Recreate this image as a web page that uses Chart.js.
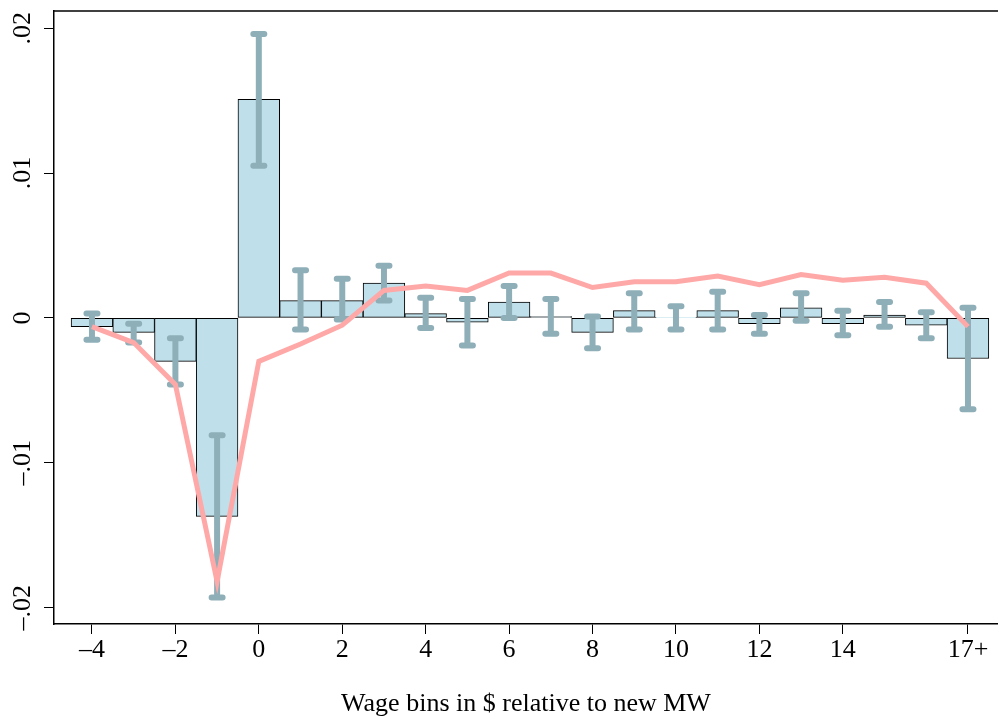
<!DOCTYPE html>
<html>
<head>
<meta charset="utf-8">
<script src="https://cdn.jsdelivr.net/npm/chart.js@4.4.1/dist/chart.umd.min.js"></script>
<style>
  body { margin: 0; background: #fff; }
  #wrap { width: 998px; height: 721px; }
</style>
</head>
<body>
<div id="wrap"><canvas id="myChart" width="998" height="721"></canvas></div>
<script>
// wage bins relative to new MW (17 = "17+")
const bins = [-4, -3, -2, -1, 0, 1, 2, 3, 4, 5, 6, 7, 8, 9, 10, 11, 12, 13, 14, 15, 16, 17];
const coef = [-0.0006, -0.0010, -0.0030, -0.0137, 0.0151, 0.0012, 0.0012, 0.0024, 0.0003, -0.0003, 0.0011,
              0.0001, -0.0010, 0.0005, 0.00005, 0.0005, -0.0004, 0.0007, -0.0004, 0.0002, -0.0005, -0.0028];
const ciHigh = [0.0003, -0.0004, -0.0014, -0.0081, 0.0196, 0.0033, 0.0027, 0.0036, 0.0014, 0.0013, 0.0022,
                0.0013, 0.0001, 0.0017, 0.0008, 0.0018, 0.0002, 0.0017, 0.0005, 0.0011, 0.0004, 0.0007];
const ciLow = [-0.0015, -0.0017, -0.0046, -0.0193, 0.0105, -0.0008, -0.0001, 0.0012, -0.0007, -0.0019, 0.0000,
               -0.0011, -0.0021, -0.0008, -0.0008, -0.0008, -0.0011, -0.0002, -0.0012, -0.0006, -0.0014, -0.0063];
const pinkLine = [-0.0006, -0.0017, -0.0046, -0.0182, -0.0030, -0.0018, -0.0005, 0.0019, 0.0022, 0.0019, 0.0031,
                  0.0031, 0.0021, 0.0025, 0.0025, 0.0029, 0.0023, 0.0030, 0.0026, 0.0028, 0.0024, -0.0006];

const xTickVals = [-4, -2, 0, 2, 4, 6, 8, 10, 12, 14, 17];
const xTickLabels = ['\u20134', '\u20132', '0', '2', '4', '6', '8', '10', '12', '14', '17+'];
const yTickVals = [-0.02, -0.01, 0, 0.01, 0.02];
const yTickLabels = ['\u2013.02', '\u2013.01', '0', '.01', '.02'];

const serif = '"Liberation Serif", "Times New Roman", serif';
const errColor = '#8eaeb8';

const errorBars = {
    id: 'errorBars',
    afterDatasetDraw: (chart, args) => {
        if (args.index !== 1) return;
        const ctx = chart.ctx;
        const x = chart.scales.x;
        const y = chart.scales.y;
        ctx.save();
        ctx.strokeStyle = errColor;
        ctx.lineWidth = 6;
        for (let i = 0; i < bins.length; i++) {
            const px = x.getPixelForValue(bins[i]);
            const top = y.getPixelForValue(ciHigh[i]);
            const bot = y.getPixelForValue(ciLow[i]);
            ctx.beginPath();
            ctx.lineCap = 'butt';
            ctx.moveTo(px, top);
            ctx.lineTo(px, bot);
            ctx.stroke();
            ctx.lineCap = 'round';
            ctx.beginPath();
            ctx.moveTo(px - 5.5, top);
            ctx.lineTo(px + 5.5, top);
            ctx.moveTo(px - 5.5, bot);
            ctx.lineTo(px + 5.5, bot);
            ctx.stroke();
        }
        ctx.restore();
    }
};

const frameAndLabels = {
    id: 'frameAndLabels',
    afterDraw: (chart) => {
        const ctx = chart.ctx;
        const area = chart.chartArea;
        const y = chart.scales.y;
        ctx.save();
        ctx.strokeStyle = '#000';
        ctx.lineWidth = 1.5;
        ctx.beginPath();
        ctx.moveTo(area.left, area.top);
        ctx.lineTo(area.right, area.top);
        ctx.stroke();
        ctx.fillStyle = '#000';
        ctx.font = '26px ' + serif;
        ctx.textAlign = 'center';
        ctx.textBaseline = 'middle';
        for (let i = 0; i < yTickVals.length; i++) {
            ctx.save();
            ctx.translate(23, y.getPixelForValue(yTickVals[i]));
            ctx.rotate(-Math.PI / 2);
            ctx.fillText(yTickLabels[i], 0, 0);
            ctx.restore();
        }
        ctx.restore();
    }
};

const data = {
    datasets: [{
        type: 'line',
        data: bins.map((b, i) => ({x: b, y: pinkLine[i]})),
        borderColor: '#ffa8a8',
        borderWidth: 5,
        pointRadius: 0,
        tension: 0,
        order: 1
    }, {
        type: 'bar',
        data: bins.map((b, i) => ({x: b, y: coef[i]})),
        backgroundColor: '#bfe0ea',
        borderColor: '#000',
        borderWidth: 1,
        borderSkipped: false,
        barPercentage: 1,
        categoryPercentage: 1,
        order: 2
    }]
};

const config = {
    type: 'bar',
    data: data,
    options: {
        responsive: false,
        animation: false,
        layout: { padding: { top: 11, left: 0, right: 0, bottom: 0 } },
        plugins: {
            legend: { display: false },
            tooltip: { enabled: false }
        },
        scales: {
            x: {
                type: 'linear',
                offset: false,
                min: -4.91,
                max: 17.72,
                afterBuildTicks: (axis) => { axis.ticks = xTickVals.map(v => ({value: v})); },
                afterFit: (axis) => { axis.height = 97; },
                grid: { drawOnChartArea: false, offset: false, tickLength: 10, color: '#000', lineWidth: 1 },
                border: { color: '#000', width: 1.5 },
                ticks: {
                    color: '#000',
                    font: { family: serif, size: 26 },
                    padding: 1,
                    maxRotation: 0,
                    autoSkip: false,
                    callback: (value) => xTickLabels[xTickVals.indexOf(value)]
                },
                title: {
                    display: true,
                    text: 'Wage bins in $ relative to new MW',
                    color: '#000',
                    font: { family: serif, size: 26, lineHeight: 1.2 },
                    padding: { top: 0, bottom: 1 }
                }
            },
            y: {
                min: -0.02113,
                max: 0.02119,
                afterBuildTicks: (axis) => { axis.ticks = yTickVals.map(v => ({value: v})); },
                afterFit: (axis) => { axis.width = 54; },
                grid: { drawOnChartArea: false, tickLength: 10, color: '#000', lineWidth: 1 },
                border: { color: '#000', width: 1.5 },
                ticks: { display: false }
            }
        }
    },
    plugins: [errorBars, frameAndLabels]
};

const myChart = new Chart(document.getElementById('myChart'), config);
</script>
</body>
</html>
